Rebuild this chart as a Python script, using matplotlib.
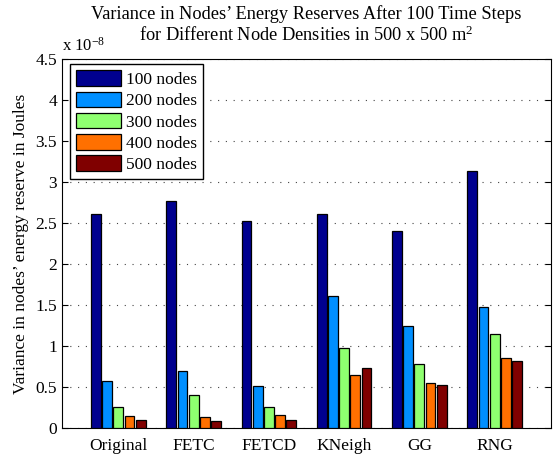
import numpy as np
import matplotlib
matplotlib.use('Agg')
import matplotlib.pyplot as plt
from matplotlib.ticker import FormatStrFormatter, MultipleLocator

plt.rcParams['font.family'] = ['Liberation Serif', 'DejaVu Serif']
plt.rcParams['mathtext.fontset'] = 'custom'
plt.rcParams['mathtext.rm'] = 'Liberation Serif'
plt.rcParams['mathtext.it'] = 'Liberation Serif:italic'

# topology control algorithms
algorithms = ['Original', 'FETC', 'FETCD', 'KNeigh', 'GG', 'RNG']
series = ['100 nodes', '200 nodes', '300 nodes', '400 nodes', '500 nodes']
# variance values, in units of 1e-8 J
nodes_100 = [2.61, 2.77, 2.52, 2.61, 2.40, 3.13]
nodes_200 = [0.57, 0.70, 0.51, 1.61, 1.24, 1.47]
nodes_300 = [0.26, 0.40, 0.26, 0.97, 0.78, 1.15]
nodes_400 = [0.15, 0.13, 0.16, 0.65, 0.55, 0.85]
nodes_500 = [0.10, 0.09, 0.10, 0.73, 0.53, 0.82]
colors = ['#00008F', '#008FFF', '#8FFF70', '#FF7000', '#800000']

values = [nodes_100, nodes_200, nodes_300, nodes_400, nodes_500]

fig = plt.figure(figsize=(5.53, 4.58), dpi=100)
ax = fig.add_axes([0.112, 0.0655, 0.8845, 0.806])

x = np.arange(1, len(algorithms) + 1)
step = 0.149
width = 0.13
for i, (vals, lab, c) in enumerate(zip(values, series, colors)):
    ax.bar(x + (i - 2) * step, vals, width, color=c, edgecolor='black',
           linewidth=0.9, label=lab, zorder=3)

ax.set_xlim(0.25, 6.75)
ax.set_ylim(0, 4.5)
ax.yaxis.set_major_locator(MultipleLocator(0.5))
ax.yaxis.set_major_formatter(FormatStrFormatter('%g'))
ax.set_xticks(x)
ax.set_xticklabels(algorithms)
ax.tick_params(axis='both', direction='in', labelsize=12.5, top=False, right=True)
ax.tick_params(axis='x', length=0, pad=7)
ax.tick_params(axis='y', length=4)
ax.yaxis.grid(True, linestyle=(0, (1, 6)), color='#444444', linewidth=0.8, zorder=0)

ax.set_ylabel('Variance in nodes\u2019 energy reserve in Joules', fontsize=12.5, labelpad=5)

# two-line title, one text per line
title_x = 0.112 + 0.8845 / 2
fig.text(title_x, 1 - 14 / 458, 'Variance in Nodes\u2019 Energy Reserves After 100 Time Steps',
         fontsize=13.2, ha='center', va='center')
fig.text(title_x, 1 - 35 / 458, 'for Different Node Densities in 500 x 500 m$^2$',
         fontsize=13.2, ha='center', va='center')
ax.text(0.0, 1.012, 'x 10$^{-8}$', transform=ax.transAxes, fontsize=12,
        ha='left', va='bottom')

leg = ax.legend(loc='upper left', fontsize=12.5, handlelength=2.6, handleheight=1.0,
                handletextpad=0.3, borderpad=0.35, labelspacing=0.2,
                borderaxespad=0, fancybox=False, framealpha=1, edgecolor='black',
                bbox_to_anchor=(0.016, 0.985))
leg.get_frame().set_linewidth(1.0)

fig.savefig('out.png', dpi=100)
